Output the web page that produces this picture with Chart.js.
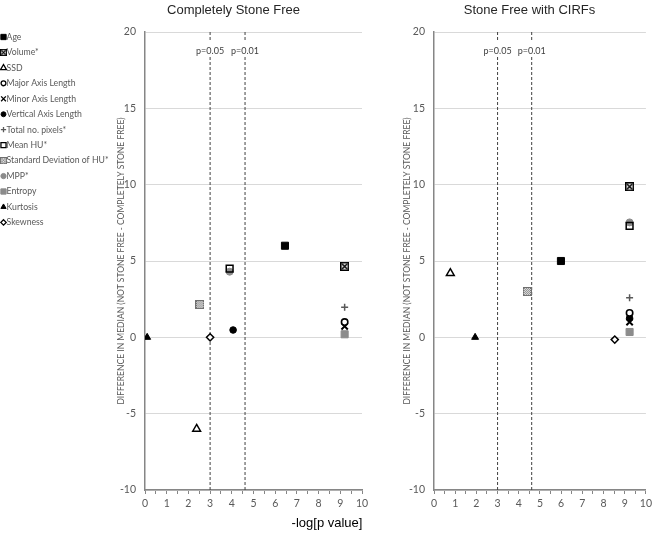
<!DOCTYPE html>
<html>
<head>
<meta charset="utf-8">
<script src="https://cdn.jsdelivr.net/npm/chart.js@4/dist/chart.umd.min.js"></script>
<style>
  body { margin: 0; background: #fff; }
  #wrap { position: relative; width: 655px; height: 540px; }
  #wrap canvas { position: absolute; top: 0; }
  #left { left: 0; }
  #right { left: 380px; }
</style>
</head>
<body>
<div id="wrap">
  <canvas id="left" width="655" height="540"></canvas>
  <canvas id="right" width="275" height="540"></canvas>
</div>
<script>
// variables, in legend order
const names = ['Age', 'Volume*', 'SSD', 'Major Axis Length', 'Minor Axis Length', 'Vertical Axis Length',
  'Total no. pixels*', 'Mean HU*', 'Standard Deviation of HU*', 'MPP*', 'Entropy', 'Kurtosis', 'Skewness'];

// completely stone free: -log[p] and difference in median
const freeX = [6.45, 9.2, 2.38, 9.2, 9.2, 4.06, 9.2, 3.9, 2.53, 3.9, 9.2, 0.1, 3.0];
const freeY = [6.0, 4.65, -6.0, 1.0, 0.72, 0.48, 1.97, 4.5, 2.15, 4.3, 0.2, 0.0, 0.0];

// stone free with CIRFs
const cirfX = [5.99, 9.23, 0.77, 9.23, 9.23, 9.23, 9.23, 9.23, 4.4, 9.23, 9.23, 1.94, 8.53];
const cirfY = [5.0, 9.87, 4.2, 1.6, 1.0, 1.25, 2.6, 7.3, 3.0, 7.53, 0.35, 0.0, -0.15];

// significance cut-offs (-ln p)
const pLabels = ['p=0.05', 'p=0.01'];
const pCuts = [3.0, 4.61];

const yTitle = 'DIFFERENCE IN MEDIAN (NOT STONE FREE - COMPLETELY STONE FREE)';
const xTitle = '-log[p value]';

function makeIcon(size, draw) {
  const c = document.createElement('canvas');
  c.width = c.height = size;
  draw(c.getContext('2d'), size);
  return c;
}

const boxedX = makeIcon(9, (g, s) => {
  g.fillStyle = '#fff';
  g.fillRect(0, 0, s, s);
  g.strokeStyle = '#000';
  g.lineWidth = 1.5;
  g.strokeRect(0.75, 0.75, s - 1.5, s - 1.5);
  g.beginPath();
  g.moveTo(2, 2); g.lineTo(s - 2, s - 2);
  g.moveTo(s - 2, 2); g.lineTo(2, s - 2);
  g.stroke();
});

const hatched = makeIcon(9, (g, s) => {
  g.fillStyle = '#fff';
  g.fillRect(0, 0, s, s);
  g.fillStyle = '#6f6f6f';
  for (let i = 1; i < s - 1; i++) {
    for (let j = 1; j < s - 1; j++) {
      if ((i + j) % 2 === 0) g.fillRect(i, j, 1, 1);
    }
  }
  g.strokeStyle = '#6f6f6f';
  g.lineWidth = 1;
  g.strokeRect(0.5, 0.5, s - 1, s - 1);
});

const markers = [
  { style: 'rect', r: 5, bg: '#000', border: '#000', bw: 1 },
  { style: boxedX },
  { style: 'triangle', r: 4.5, bg: '#fff', border: '#000', bw: 1.5 },
  { style: 'circle', r: 3.2, bg: '#fff', border: '#000', bw: 1.6 },
  { style: 'crossRot', r: 4.5, bg: '#000', border: '#000', bw: 2 },
  { style: 'circle', r: 3.3, bg: '#000', border: '#000', bw: 1 },
  { style: 'cross', r: 3.5, bg: '#595959', border: '#595959', bw: 1.5 },
  { style: 'rect', r: 4.8, bg: 'rgba(0,0,0,0)', border: '#000', bw: 1.5 },
  { style: hatched },
  { style: 'circle', r: 3.5, bg: '#8c8c8c', border: '#8c8c8c', bw: 1 },
  { style: 'rect', r: 5, bg: '#8c8c8c', border: '#8c8c8c', bw: 1 },
  { style: 'triangle', r: 4, bg: '#000', border: '#000', bw: 1 },
  { style: 'rectRot', r: 3.6, bg: '#fff', border: '#000', bw: 1.5 }
];

function buildDatasets(xs, ys) {
  const sets = names.map((name, i) => ({
    label: name,
    data: [{ x: xs[i], y: ys[i] }],
    pointStyle: markers[i].style,
    pointRadius: markers[i].r || 4,
    pointBackgroundColor: markers[i].bg || '#fff',
    pointBorderColor: markers[i].border || '#000',
    pointBorderWidth: markers[i].bw || 1,
    order: 1
  }));
  pCuts.forEach((cut, i) => {
    sets.push({
      label: '',
      cutLabel: pLabels[i],
      data: [{ x: cut, y: 20 }, { x: cut, y: -10 }],
      showLine: true,
      borderColor: '#404040',
      borderWidth: 1,
      borderDash: [3, 2],
      pointRadius: 0,
      order: 20
    });
  });
  return sets;
}

const cutLabelsPlugin = {
  id: 'cutLabels',
  afterDatasetsDraw(chart) {
    const { ctx, chartArea, scales } = chart;
    ctx.save();
    ctx.font = '9px Lato';
    ctx.textAlign = 'center';
    ctx.textBaseline = 'middle';
    chart.data.datasets.forEach((ds) => {
      if (!ds.cutLabel) return;
      const px = scales.x.getPixelForValue(ds.data[0].x);
      ctx.fillStyle = '#fff';
      ctx.fillRect(px - 16, chartArea.top + 9, 32, 16);
      ctx.fillStyle = '#404040';
      ctx.fillText(ds.cutLabel, px, chartArea.top + 19);
    });
    ctx.restore();
  }
};

const headingPlugin = {
  id: 'heading',
  afterDraw(chart, args, opts) {
    const ctx = chart.ctx;
    ctx.save();
    ctx.textAlign = 'center';
    ctx.textBaseline = 'middle';
    (opts.items || []).forEach((t) => {
      ctx.font = t.font;
      ctx.fillStyle = t.color;
      ctx.fillText(t.text, t.x, t.y);
    });
    ctx.restore();
  }
};

const sideLegendPlugin = {
  id: 'sideLegend',
  afterDraw(chart, args, opts) {
    if (!opts.show) return;
    const ctx = chart.ctx;
    ctx.save();
    ctx.font = '8.7px Lato';
    ctx.textBaseline = 'middle';
    ctx.textAlign = 'left';
    names.forEach((name, i) => {
      const y = opts.top + i * opts.step;
      const m = markers[i];
      if (typeof m.style === 'object') {
        ctx.drawImage(m.style, opts.markX - 3.5, y - 3.5, 7, 7);
      } else {
        ctx.fillStyle = m.bg;
        ctx.strokeStyle = m.border;
        ctx.lineWidth = Math.min(m.bw, 1.3);
        Chart.helpers.drawPoint(ctx, { pointStyle: m.style, radius: m.r * 0.75, borderWidth: ctx.lineWidth, rotation: 0 }, opts.markX, y);
      }
      ctx.fillStyle = '#595959';
      ctx.fillText(name, opts.textX, y);
    });
    ctx.restore();
  }
};

function scalesFor(titlePad) {
  return {
    x: {
      type: 'linear',
      min: 0,
      max: 10,
      border: { color: '#868686', width: 1.5 },
      grid: { drawOnChartArea: false, drawTicks: true, tickLength: 4, color: '#868686' },
      ticks: {
        stepSize: 0.5,
        autoSkip: false,
        maxRotation: 0,
        padding: 3,
        color: '#595959',
        font: { family: 'Lato', size: 10.5 },
        callback: (v) => (Number.isInteger(v) ? String(v) : '')
      },
      afterFit: (s) => { s.height = 20; }
    },
    y: {
      min: -10,
      max: 20,
      border: { color: '#868686', width: 1.5 },
      grid: { color: '#d9d9d9', drawTicks: false },
      ticks: { stepSize: 5, padding: 9, color: '#595959', font: { family: 'Lato', size: 10.5 } },
      title: {
        display: true,
        text: yTitle,
        color: '#595959',
        font: { family: 'Lato', size: 8.5 },
        padding: { top: titlePad, bottom: 0 }
      },
      afterFit: (s) => { s.width = 45; }
    }
  };
}

function makeChart(id, xs, ys, padding, titlePad, headings, legend) {
  return new Chart(document.getElementById(id), {
    type: 'scatter',
    data: { datasets: buildDatasets(xs, ys) },
    plugins: [cutLabelsPlugin, headingPlugin, sideLegendPlugin],
    options: {
      responsive: false,
      animation: false,
      events: [],
      layout: { padding: padding },
      scales: scalesFor(titlePad),
      plugins: {
        legend: { display: false },
        tooltip: { enabled: false },
        heading: { items: headings },
        sideLegend: legend
      }
    }
  });
}

makeChart('left', freeX, freeY, { left: 100, right: 293, top: 32, bottom: 30 }, 16,
  [
    { text: 'Completely Stone Free', x: 233.5, y: 10, font: '13px "Liberation Sans"', color: '#262626' },
    { text: xTitle, x: 327, y: 523, font: '13px "Liberation Sans"', color: '#000' }
  ],
  { show: true, top: 37, step: 15.45, markX: 3.5, textX: 6.5 });

makeChart('right', cirfX, cirfY, { left: 9, right: 5, top: 32, bottom: 30 }, 13,
  [
    { text: 'Stone Free with CIRFs', x: 149.5, y: 10, font: '13px "Liberation Sans"', color: '#262626' }
  ],
  { show: false });
</script>
</body>
</html>
